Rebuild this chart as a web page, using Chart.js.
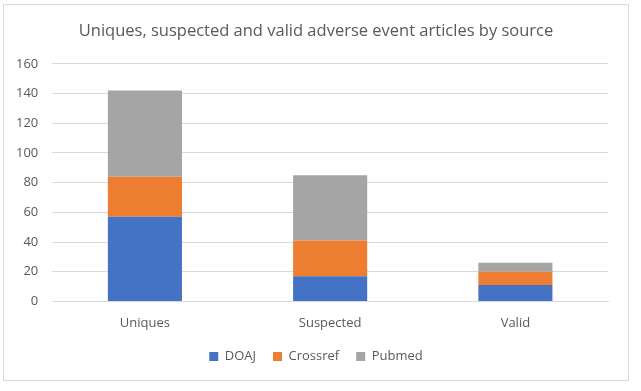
<!DOCTYPE html>
<html>
<head>
<meta charset="utf-8">
<script src="https://cdn.jsdelivr.net/npm/chart.js@4/dist/chart.umd.min.js"></script>
<style>
  html, body { margin: 0; padding: 0; background: #ffffff; }
  #frame { position: absolute; left: 3px; top: 4px; width: 624px; height: 375px; border: 1px solid #d9d9d9; background: #fff; }
  canvas { display: block; }
</style>
</head>
<body>
<div id="frame"><canvas id="c" width="624" height="375"></canvas></div>
<script>
const categories = ["Uniques", "Suspected", "Valid"];
const doaj = [57, 17, 11];
const crossref = [27, 24, 9];
const pubmed = [58, 44, 6];
const seriesNames = ["DOAJ", "Crossref", "Pubmed"];
const yTicks = [0, 20, 40, 60, 80, 100, 120, 140, 160];

const FONT = "'Open Sans', 'Liberation Sans', sans-serif";
const TXT = "#595959";

new Chart(document.getElementById("c"), {
  type: "bar",
  data: {
    labels: categories,
    datasets: [
      { label: seriesNames[0], data: doaj, backgroundColor: "#4472c4" },
      { label: seriesNames[1], data: crossref, backgroundColor: "#ed7d31" },
      { label: seriesNames[2], data: pubmed, backgroundColor: "#a5a5a5" }
    ]
  },
  options: {
    responsive: false,
    animation: false,
    layout: { padding: { left: 9, right: 9, top: 4, bottom: 7 } },
    datasets: { bar: { categoryPercentage: 0.40, barPercentage: 1.0 } },
    plugins: {
      title: {
        display: true,
        text: "Uniques, suspected and valid adverse event articles by source",
        color: TXT,
        font: { family: FONT, size: 16.5, weight: "normal" },
        padding: { top: 12, bottom: 23 }
      },
      legend: {
        position: "bottom",
        labels: {
          color: TXT,
          font: { family: FONT, size: 13 },
          boxWidth: 9, boxHeight: 9,
          padding: 17
        }
      },
      tooltip: { enabled: false }
    },
    scales: {
      x: {
        stacked: true,
        grid: { display: false, drawTicks: false },
        border: { color: "#d9d9d9" },
        ticks: { color: TXT, font: { family: FONT, size: 13 }, padding: 14 },
        afterFit: (s) => { s.height -= 12; }
      },
      y: {
        stacked: true,
        min: 0, max: 160,
        afterBuildTicks: (axis) => { axis.ticks = yTicks.map(v => ({ value: v })); },
        grid: { color: "#d9d9d9", drawTicks: false },
        border: { display: false },
        ticks: { color: TXT, font: { family: FONT, size: 13 }, padding: 14 },
        afterFit: (s) => { s.width -= 11; }
      },
      yRight: {
        position: "right",
        display: true,
        grid: { display: false, drawTicks: false },
        border: { display: false },
        ticks: { display: false },
        afterFit: (s) => { s.width = 11; }
      }
    }
  }
});
</script>
</body>
</html>
